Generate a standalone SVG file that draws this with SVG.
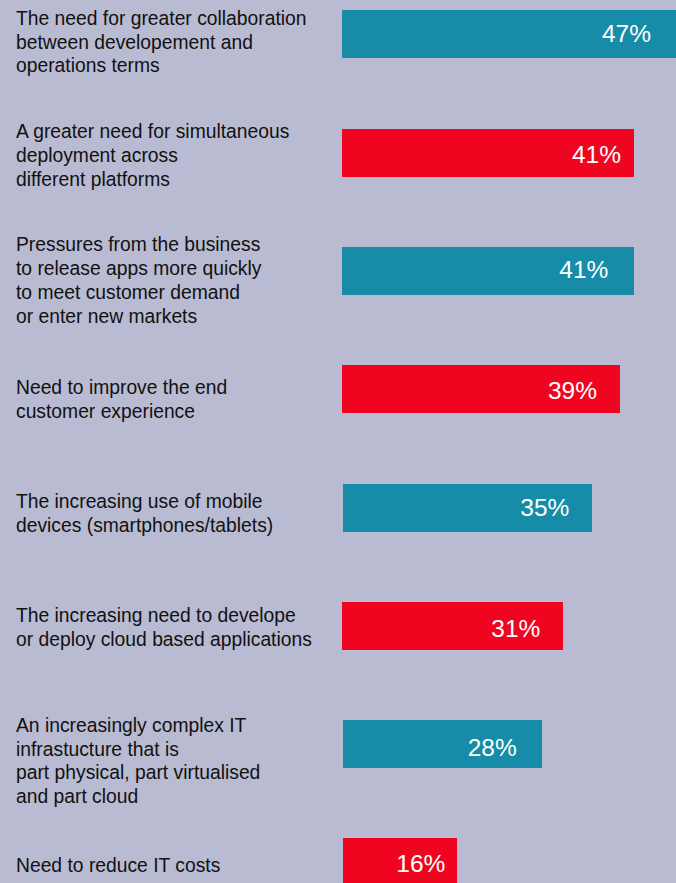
<svg xmlns="http://www.w3.org/2000/svg" width="676" height="883" viewBox="0 0 676 883">
<style>
.lbl{font-family:"Liberation Sans",Arial,sans-serif;font-size:19.3px;fill:#111111}
.pct{font-family:"Liberation Sans",Arial,sans-serif;font-size:24.5px;fill:#ffffff;text-anchor:end}
.teal{fill:#168ca8}
.red{fill:#ef0520}
</style>
<rect x="0" y="0" width="676" height="883" fill="#b9bbd2"/>
<g id="row1">
<text class="lbl" x="16" y="24.7">The need for greater collaboration</text>
<text class="lbl" x="16" y="48.5">between developement and</text>
<text class="lbl" x="16" y="72.3">operations terms</text>
<rect class="teal" x="342" y="10" width="334" height="48"/>
<text class="pct" x="651" y="41.7">47%</text>
</g>
<g id="row2">
<text class="lbl" x="16" y="138.3">A greater need for simultaneous</text>
<text class="lbl" x="16" y="162">deployment across</text>
<text class="lbl" x="16" y="186">different platforms</text>
<rect class="red" x="342" y="129" width="292" height="48"/>
<text class="pct" x="621" y="163.3">41%</text>
</g>
<g id="row3">
<text class="lbl" x="16" y="250.7">Pressures from the business</text>
<text class="lbl" x="16" y="274.7">to release apps more quickly</text>
<text class="lbl" x="16" y="298.7">to meet customer demand</text>
<text class="lbl" x="16" y="322.7">or enter new markets</text>
<rect class="teal" x="342" y="247" width="292" height="48"/>
<text class="pct" x="608.3" y="278.3">41%</text>
</g>
<g id="row4">
<text class="lbl" x="16" y="394">Need to improve the end</text>
<text class="lbl" x="16" y="418.3">customer experience</text>
<rect class="red" x="342" y="365" width="278" height="48"/>
<text class="pct" x="597" y="399.3">39%</text>
</g>
<g id="row5">
<text class="lbl" x="16" y="507.7">The increasing use of mobile</text>
<text class="lbl" x="16" y="532">devices (smartphones/tablets)</text>
<rect class="teal" x="343" y="484" width="249" height="48"/>
<text class="pct" x="569.3" y="515.7">35%</text>
</g>
<g id="row6">
<text class="lbl" x="16" y="621.7">The increasing need to develope</text>
<text class="lbl" x="16" y="646">or deploy cloud based applications</text>
<rect class="red" x="342" y="602" width="221" height="48"/>
<text class="pct" x="540.3" y="636.7">31%</text>
</g>
<g id="row7">
<text class="lbl" x="16" y="731.7">An increasingly complex IT</text>
<text class="lbl" x="16" y="755.5">infrastucture that is</text>
<text class="lbl" x="16" y="779">part physical, part virtualised</text>
<text class="lbl" x="16" y="802.7">and part cloud</text>
<rect class="teal" x="343" y="720" width="199" height="48"/>
<text class="pct" x="516.7" y="755.5">28%</text>
</g>
<g id="row8">
<text class="lbl" x="16" y="872.3">Need to reduce IT costs</text>
<rect class="red" x="343" y="838" width="114" height="45"/>
<text class="pct" x="445.3" y="872">16%</text>
</g>
<g id="connectors"></g>
</svg>
